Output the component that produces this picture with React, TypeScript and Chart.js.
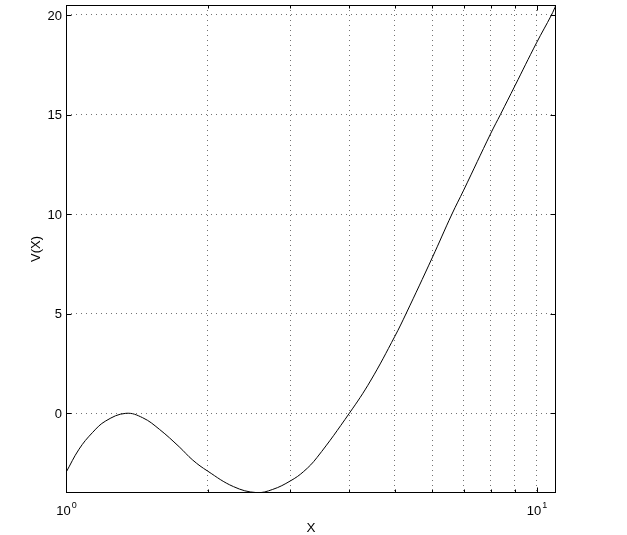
import React, { useEffect, useRef } from "react";
import { Chart, registerables } from "chart.js";

Chart.register(...registerables);

// ---- data ----
const X_VALUES = [1.0, 1.066, 1.138, 1.215, 1.34, 1.455, 1.579, 1.74, 1.86, 2.0, 2.27, 2.54, 2.75, 3.0, 3.2, 3.415, 4.0, 4.435, 5.0, 5.28, 6.0, 6.61, 7.0, 8.0, 8.38, 9.0, 10.0, 10.76, 11.0];
const V_VALUES = [-2.97, -1.8, -0.97, -0.38, 0, -0.22, -0.8, -1.68, -2.35, -2.9, -3.68, -3.98, -3.82, -3.39, -2.92, -2.22, 0, 1.62, 3.87, 5.0, 7.8, 10, 11.2, 14.07, 15, 16.45, 18.6, 20, 20.5];

const X_GRID_TICKS = [1, 2, 3, 4, 5, 6, 7, 8, 9, 10];
const X_LABEL_TICKS = [1, 10];
const X_LABEL_EXPONENTS = ["0", "1"];
const Y_TICKS = [0, 5, 10, 15, 20];
const X_MIN = 1;
const X_MAX = 11;
const Y_MIN = -4;
const Y_MAX = 20.5;
const X_TITLE = "X";
const Y_TITLE = "V(X)";

const FONT = '"Liberation Sans", Arial, Helvetica, sans-serif';

const matlabAxes = {
  id: "matlabAxes",
  afterDatasetsDraw(chart: any) {
    const { ctx, chartArea: a, scales } = chart;
    const xs = scales.x;
    const ys = scales.y;
    ctx.save();
    ctx.setLineDash([]);
    ctx.strokeStyle = "#000";
    ctx.lineWidth = 1;
    const L = Math.round(a.left) + 0.5;
    const R = Math.round(a.right) - 0.5;
    const T = Math.round(a.top) + 0.5;
    const B = Math.round(a.bottom) - 0.5;
    ctx.strokeRect(L, T, R - L, B - T);

    ctx.beginPath();
    X_GRID_TICKS.forEach((v) => {
      const px = Math.round(xs.getPixelForValue(v)) + 0.5;
      const len = X_LABEL_TICKS.includes(v) ? 5 : 3;
      ctx.moveTo(px, B);
      ctx.lineTo(px, B - len);
      ctx.moveTo(px, T);
      ctx.lineTo(px, T + len);
    });
    Y_TICKS.forEach((v) => {
      const py = Math.round(ys.getPixelForValue(v)) + 0.5;
      ctx.moveTo(L, py);
      ctx.lineTo(L + 5, py);
      ctx.moveTo(R, py);
      ctx.lineTo(R - 5, py);
    });
    ctx.stroke();

    ctx.fillStyle = "#000";
    // y tick labels
    ctx.font = `13px ${FONT}`;
    ctx.textAlign = "right";
    ctx.textBaseline = "middle";
    Y_TICKS.forEach((v) => {
      ctx.fillText(String(v), a.left - 4, ys.getPixelForValue(v) + 1);
    });

    // x tick labels: 10^n
    ctx.textBaseline = "alphabetic";
    ctx.textAlign = "left";
    X_LABEL_TICKS.forEach((v, i) => {
      const px = xs.getPixelForValue(v);
      ctx.font = `13px ${FONT}`;
      const wBase = ctx.measureText("10").width;
      ctx.font = `9px ${FONT}`;
      const wExp = ctx.measureText(X_LABEL_EXPONENTS[i]).width;
      const start = px - (wBase + 1 + wExp) / 2 + 0.5;
      ctx.font = `13px ${FONT}`;
      ctx.fillText("10", start, a.bottom + 22);
      ctx.font = `9px ${FONT}`;
      ctx.fillText(X_LABEL_EXPONENTS[i], start + wBase + 1, a.bottom + 14.5);
    });

    // axis titles
    ctx.font = `13.5px ${FONT}`;
    ctx.textAlign = "center";
    ctx.fillText(X_TITLE, (a.left + a.right) / 2, a.bottom + 38.5);
    ctx.save();
    ctx.translate(39.5, (a.top + a.bottom) / 2);
    ctx.rotate(-Math.PI / 2);
    ctx.font = `13px ${FONT}`;
    ctx.textAlign = "center";
    ctx.textBaseline = "alphabetic";
    ctx.fillText(Y_TITLE, 0, 0);
    ctx.restore();

    ctx.restore();
  },
};

export default function App() {
  const ref = useRef<HTMLCanvasElement | null>(null);
  useEffect(() => {
    if (!ref.current) return;
    const points = X_VALUES.map((x, i) => ({ x, y: V_VALUES[i] }));
    const gridCommon = {
      display: true,
      color: "rgba(0,0,0,0.55)",
      lineWidth: 1,
      drawTicks: false,
      tickLength: 0,
      borderDash: [1, 4],
    };
    const chart = new Chart(ref.current, {
      type: "line",
      data: {
        datasets: [
          {
            data: points,
            borderColor: "#000",
            borderWidth: 1,
            pointRadius: 0,
            fill: false,
            tension: 0.4,
          } as any,
        ],
      },
      options: {
        animation: false,
        responsive: false,
        maintainAspectRatio: false,
        devicePixelRatio: 1,
        layout: { padding: { top: 5, right: 71, left: 0, bottom: 0 } },
        plugins: { legend: { display: false }, tooltip: { enabled: false } },
        scales: {
          x: {
            type: "logarithmic",
            min: X_MIN,
            max: X_MAX,
            afterBuildTicks: (s: any) => {
              s.ticks = X_GRID_TICKS.map((v) => ({ value: v }));
            },
            afterFit: (s: any) => {
              s.height = 42;
            },
            ticks: { display: false },
            grid: gridCommon as any,
            border: { display: false, dash: [1, 4] } as any,
          },
          y: {
            type: "linear",
            min: Y_MIN,
            max: Y_MAX,
            afterBuildTicks: (s: any) => {
              s.ticks = Y_TICKS.map((v) => ({ value: v }));
            },
            afterFit: (s: any) => {
              s.width = 66;
            },
            ticks: { display: false },
            grid: gridCommon as any,
            border: { display: false, dash: [1, 4] } as any,
          },
        },
      } as any,
      plugins: [matlabAxes],
    });
    return () => chart.destroy();
  }, []);
  return (
    <div style={{ position: "absolute", left: 0, top: 0, width: 627, height: 535, background: "#fff" }}>
      <canvas ref={ref} width={627} height={535} style={{ width: 627, height: 535, display: "block" }} />
    </div>
  );
}
